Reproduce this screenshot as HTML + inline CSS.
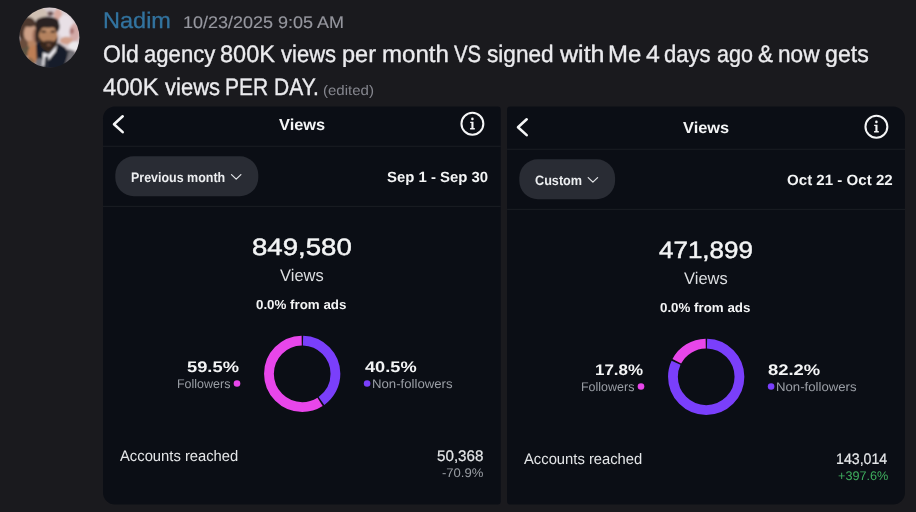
<!DOCTYPE html>
<html><head><meta charset="utf-8"><title>Discord message</title><style>
html,body{margin:0;padding:0}
body{width:916px;height:512px;overflow:hidden;background:#1a1a1e;position:relative;font-family:"Liberation Sans", sans-serif}
.abs{position:absolute;display:block}
.t{position:absolute;white-space:nowrap;line-height:1;transform-origin:0 0;text-rendering:geometricPrecision;font-family:"Liberation Sans", sans-serif}
</style></head><body>
<svg class="abs" style="left:0;top:0" width="916" height="512" viewBox="0 0 916 512"><defs><clipPath id="avc"><circle cx="30" cy="30" r="30"/></clipPath><filter id="avb" x="-20%" y="-20%" width="140%" height="140%"><feGaussianBlur stdDeviation="0.9"/></filter></defs><g transform="translate(19.4 7.6)"><g clip-path="url(#avc)"><g filter="url(#avb)"><rect x="-5" y="-5" width="70" height="70" fill="#d8ccd0"/><ellipse cx="17" cy="6" rx="11" ry="7" fill="#cfc0b3"/><ellipse cx="31" cy="6" rx="3" ry="2.4" fill="#6a5050"/><ellipse cx="38.5" cy="7" rx="4" ry="5.5" fill="#d9aaa0"/><ellipse cx="46" cy="19" rx="8" ry="12" fill="#e8e0e6"/><ellipse cx="55" cy="25" rx="5" ry="9" fill="#d3aaa8"/><ellipse cx="52.5" cy="23.5" rx="2" ry="3" fill="#a87270"/><ellipse cx="47" cy="33" rx="6.5" ry="3.8" fill="#d2a08c"/><ellipse cx="55" cy="38.5" rx="6" ry="4.5" fill="#ece9ec"/><ellipse cx="50.5" cy="52" rx="8" ry="10" fill="#737177"/><ellipse cx="47.5" cy="44" rx="2.5" ry="2" fill="#45454b"/><ellipse cx="8.5" cy="23" rx="10" ry="13.5" fill="#4d392e"/><ellipse cx="11" cy="26" rx="6.6" ry="9.8" fill="#cc9f86"/><ellipse cx="15.2" cy="29" rx="2.4" ry="7.5" fill="#a67660"/><ellipse cx="10" cy="15.8" rx="6.5" ry="3.6" fill="#4d392e"/><ellipse cx="11.5" cy="38" rx="5.5" ry="5" fill="#b88462"/><ellipse cx="4.5" cy="43" rx="6" ry="7" fill="#5f5542"/><ellipse cx="15" cy="47" rx="7" ry="9" fill="#bd7e55"/><ellipse cx="9" cy="55" rx="6" ry="5" fill="#8b6a4f"/><ellipse cx="17.8" cy="28" rx="2.3" ry="8.5" fill="#3b2b25"/><ellipse cx="3.5" cy="36" rx="5" ry="5" fill="#6a4e3e"/><path d="M16.5 37 L20 33.5 L29 45 L39 35.5 L46.5 40.5 L48.5 47 L44 62 L18 62 Z" fill="#181e2a"/><ellipse cx="20" cy="56" rx="4" ry="5.5" fill="#74757d"/><ellipse cx="28.3" cy="19" rx="12" ry="9.6" fill="#2a2220"/><ellipse cx="28.8" cy="28.5" rx="9.4" ry="10.5" fill="#b4825f"/><ellipse cx="29" cy="21.8" rx="6.5" ry="2.2" fill="#c08f6d"/><ellipse cx="28" cy="14.6" rx="11.6" ry="5.6" fill="#2a2220"/><path d="M19.4 29 Q20 42.5 29.5 44.3 Q38.5 42.5 38.4 29 Q35.5 35.7 29.2 35.2 Q23 35.7 19.4 29 Z" fill="#38271f"/><ellipse cx="29.3" cy="34.4" rx="5" ry="1.4" fill="#4a3227"/><ellipse cx="29.3" cy="37.4" rx="2.2" ry="0.8" fill="#9a6a55"/><ellipse cx="24.3" cy="24" rx="2.6" ry="1.2" fill="#3a2921"/><ellipse cx="33.6" cy="24" rx="2.6" ry="1.2" fill="#3a2921"/><path d="M23.5 45 L29.5 47 L37.8 37.3 L36.3 44 L29 53 L25.5 58.5 L22.8 58.5 Z" fill="#eceaee"/><path d="M25.6 49.5 L28.8 48.5 L29.5 62 L24.5 62 Z" fill="#212733"/></g></g></g><path d="M115.00 106.60 H497.70 A3 3 0 0 1 500.70 109.60 V501.50 A3 3 0 0 1 497.70 504.50 H115.00 A12 12 0 0 1 103.00 492.50 V118.60 A12 12 0 0 1 115.00 106.60 Z" fill="#0b0e15"/><rect x="103.00" y="145.70" width="397.70" height="1.2" fill="#181b21"/><rect x="103.00" y="205.80" width="397.70" height="1.2" fill="#181b21"/><path transform="translate(112.70 124.20)" d="M10 -7.9 L1.3 0 L10 7.9" fill="none" stroke="#f5f6f7" stroke-width="2.6" stroke-linecap="round" stroke-linejoin="round"/><g transform="translate(472.40 123.70)" fill="#f5f6f7"><circle r="10.95" fill="none" stroke="#f5f6f7" stroke-width="2.05"/><circle cx="0" cy="-4.8" r="1.3"/><path d="M-2.2 -2 H1.1 V4.4 H2.4 V5.8 H-2.3 V4.4 H-1.0 V-0.6 H-2.2 Z"/></g><rect x="115.30" y="156.30" width="143.00" height="39.9" rx="18.5" ry="18.5" fill="#292c34"/><path transform="translate(231.00 174.10)" d="M0.5 0.5 L5.2 5.0 L9.9 0.5" fill="none" stroke="#e2e4e7" stroke-width="1.25" stroke-linecap="round" stroke-linejoin="round"/><g transform="translate(302.20 373.80) rotate(-90)" fill="none" stroke-width="9.8"><circle r="33.25" stroke="#7a3ffb" stroke-dasharray="82.91 126.00" stroke-dashoffset="-0.85"/><circle r="33.25" stroke="#e846ea" stroke-dasharray="122.60 86.31" stroke-dashoffset="-85.46"/></g><circle cx="237.00" cy="383.50" r="3.3" fill="#e846ea"/><circle cx="367.10" cy="383.50" r="3.3" fill="#7a3ffb"/><path d="M510.10 106.60 H893.00 A12 12 0 0 1 905.00 118.60 V492.60 A12 12 0 0 1 893.00 504.60 H510.10 A3 3 0 0 1 507.10 501.60 V109.60 A3 3 0 0 1 510.10 106.60 Z" fill="#0b0e15"/><rect x="507.10" y="148.70" width="397.90" height="1.2" fill="#181b21"/><rect x="507.10" y="208.80" width="397.90" height="1.2" fill="#181b21"/><path transform="translate(516.70 127.20)" d="M10 -7.9 L1.3 0 L10 7.9" fill="none" stroke="#f5f6f7" stroke-width="2.6" stroke-linecap="round" stroke-linejoin="round"/><g transform="translate(876.40 126.70)" fill="#f5f6f7"><circle r="10.95" fill="none" stroke="#f5f6f7" stroke-width="2.05"/><circle cx="0" cy="-4.8" r="1.3"/><path d="M-2.2 -2 H1.1 V4.4 H2.4 V5.8 H-2.3 V4.4 H-1.0 V-0.6 H-2.2 Z"/></g><rect x="519.30" y="159.30" width="95.80" height="39.9" rx="18.5" ry="18.5" fill="#292c34"/><path transform="translate(587.70 177.10)" d="M0.5 0.5 L5.2 5.0 L9.9 0.5" fill="none" stroke="#e2e4e7" stroke-width="1.25" stroke-linecap="round" stroke-linejoin="round"/><g transform="translate(706.20 376.80) rotate(-90)" fill="none" stroke-width="9.8"><circle r="33.25" stroke="#7a3ffb" stroke-dasharray="170.03 38.89" stroke-dashoffset="-0.85"/><circle r="33.25" stroke="#e846ea" stroke-dasharray="35.49 173.43" stroke-dashoffset="-172.58"/></g><circle cx="641.00" cy="386.50" r="3.3" fill="#e846ea"/><circle cx="771.10" cy="386.50" r="3.3" fill="#7a3ffb"/></svg>
<span class="t" style="left:102.85px;top:10.40px;font-size:22.53px;font-weight:400;color:#32739f;transform:scaleX(1.0444);-webkit-text-stroke:0.3px #32739f">Nadim</span>
<span class="t" style="left:182.78px;top:15.40px;font-size:16.86px;font-weight:400;color:#96979f;transform:scaleX(1.0667);-webkit-text-stroke:0.15px #96979f">10/23/2025 9:05 AM</span>
<span class="t" style="left:102.57px;top:43.00px;font-size:23.84px;font-weight:400;color:#ebebee;transform:scaleX(0.9659);-webkit-text-stroke:0.35px #ebebee">Old</span>
<span class="t" style="left:143.57px;top:43.00px;font-size:23.84px;font-weight:400;color:#ebebee;transform:scaleX(0.9279);-webkit-text-stroke:0.35px #ebebee">agency</span>
<span class="t" style="left:220.30px;top:43.00px;font-size:23.84px;font-weight:400;color:#ebebee;transform:scaleX(0.9872);-webkit-text-stroke:0.35px #ebebee">800K</span>
<span class="t" style="left:281.27px;top:43.00px;font-size:23.84px;font-weight:400;color:#ebebee;transform:scaleX(0.9252);-webkit-text-stroke:0.35px #ebebee">views</span>
<span class="t" style="left:342.36px;top:43.00px;font-size:23.84px;font-weight:400;color:#ebebee;transform:scaleX(0.9886);-webkit-text-stroke:0.35px #ebebee">per</span>
<span class="t" style="left:381.57px;top:43.00px;font-size:23.84px;font-weight:400;color:#ebebee;transform:scaleX(1.0094);-webkit-text-stroke:0.35px #ebebee">month</span>
<span class="t" style="left:454.06px;top:43.00px;font-size:23.84px;font-weight:400;color:#ebebee;transform:scaleX(0.8519);-webkit-text-stroke:0.35px #ebebee">VS</span>
<span class="t" style="left:487.17px;top:43.00px;font-size:23.84px;font-weight:400;color:#ebebee;transform:scaleX(0.9496);-webkit-text-stroke:0.35px #ebebee">signed</span>
<span class="t" style="left:559.51px;top:43.00px;font-size:23.84px;font-weight:400;color:#ebebee;transform:scaleX(1.0504);-webkit-text-stroke:0.35px #ebebee">with</span>
<span class="t" style="left:607.93px;top:43.00px;font-size:23.84px;font-weight:400;color:#ebebee;transform:scaleX(1.0036);-webkit-text-stroke:0.35px #ebebee">Me</span>
<span class="t" style="left:645.86px;top:43.00px;font-size:23.84px;font-weight:400;color:#ebebee;transform:scaleX(1.0407);-webkit-text-stroke:0.35px #ebebee">4</span>
<span class="t" style="left:664.47px;top:43.00px;font-size:23.84px;font-weight:400;color:#ebebee;transform:scaleX(0.9238);-webkit-text-stroke:0.35px #ebebee">days</span>
<span class="t" style="left:716.99px;top:43.00px;font-size:23.84px;font-weight:400;color:#ebebee;transform:scaleX(0.9027);-webkit-text-stroke:0.35px #ebebee">ago</span>
<span class="t" style="left:757.84px;top:43.00px;font-size:23.84px;font-weight:400;color:#ebebee;transform:scaleX(0.9453);-webkit-text-stroke:0.35px #ebebee">&amp;</span>
<span class="t" style="left:777.96px;top:43.00px;font-size:23.84px;font-weight:400;color:#ebebee;transform:scaleX(0.9492);-webkit-text-stroke:0.35px #ebebee">now</span>
<span class="t" style="left:825.34px;top:43.00px;font-size:23.84px;font-weight:400;color:#ebebee;transform:scaleX(0.9716);-webkit-text-stroke:0.35px #ebebee">gets</span>
<span class="t" style="left:102.97px;top:76.00px;font-size:23.84px;font-weight:400;color:#ebebee;transform:scaleX(0.9985);-webkit-text-stroke:0.35px #ebebee">400K</span>
<span class="t" style="left:164.77px;top:76.00px;font-size:23.84px;font-weight:400;color:#ebebee;transform:scaleX(0.9235);-webkit-text-stroke:0.35px #ebebee">views</span>
<span class="t" style="left:225.45px;top:76.00px;font-size:23.84px;font-weight:400;color:#ebebee;transform:scaleX(0.8806);-webkit-text-stroke:0.35px #ebebee">PER</span>
<span class="t" style="left:273.55px;top:76.00px;font-size:23.84px;font-weight:400;color:#ebebee;transform:scaleX(0.8828);-webkit-text-stroke:0.35px #ebebee">DAY.</span>
<span class="t" style="left:323.25px;top:83.60px;font-size:13.95px;font-weight:400;color:#85868e;transform:scaleX(1.0785)">(edited)</span>
<span class="t" style="left:279.00px;top:117.60px;font-size:15.84px;font-weight:700;color:#f3f4f5;transform:scaleX(1.0358)">Views</span>
<span class="t" style="left:131.14px;top:170.70px;font-size:13.66px;font-weight:700;color:#eceef0;transform:scaleX(0.9128)">Previous month</span>
<span class="t" style="left:387.45px;top:171.00px;font-size:14.83px;font-weight:700;color:#f3f4f5;transform:scaleX(1.0055)">Sep 1 - Sep 30</span>
<span class="t" style="left:251.85px;top:237.20px;font-size:23.69px;font-weight:400;color:#f3f4f5;transform:scaleX(1.1648);-webkit-text-stroke:0.5px #f3f4f5">849,580</span>
<span class="t" style="left:280.21px;top:267.80px;font-size:16.86px;font-weight:400;color:#dcdee1;transform:scaleX(0.9790)">Views</span>
<span class="t" style="left:256.36px;top:298.30px;font-size:13.08px;font-weight:700;color:#f3f4f5;transform:scaleX(1.0195)">0.0% from ads</span>
<span class="t" style="left:187.33px;top:359.90px;font-size:15.26px;font-weight:700;color:#f3f4f5;transform:scaleX(1.2003)">59.5%</span>
<span class="t" style="left:176.71px;top:378.40px;font-size:12.50px;font-weight:400;color:#9a9ea5;transform:scaleX(0.9981)">Followers</span>
<span class="t" style="left:364.82px;top:359.90px;font-size:15.26px;font-weight:700;color:#f3f4f5;transform:scaleX(1.1935)">40.5%</span>
<span class="t" style="left:372.27px;top:378.40px;font-size:12.50px;font-weight:400;color:#9a9ea5;transform:scaleX(1.0543)">Non-followers</span>
<span class="t" style="left:120.10px;top:449.20px;font-size:15.26px;font-weight:400;color:#e4e6e8;transform:scaleX(0.9688)">Accounts reached</span>
<span class="t" style="left:437.47px;top:449.20px;font-size:15.26px;font-weight:400;color:#e4e6e8;transform:scaleX(0.9957);-webkit-text-stroke:0.2px #e4e6e8">50,368</span>
<span class="t" style="left:442.45px;top:466.90px;font-size:12.50px;font-weight:400;color:#9a9ea4;transform:scaleX(1.0445)">-70.9%</span>
<span class="t" style="left:683.00px;top:120.60px;font-size:15.84px;font-weight:700;color:#f3f4f5;transform:scaleX(1.0358)">Views</span>
<span class="t" style="left:535.38px;top:173.70px;font-size:13.66px;font-weight:700;color:#eceef0;transform:scaleX(0.9263)">Custom</span>
<span class="t" style="left:787.17px;top:174.00px;font-size:14.83px;font-weight:700;color:#f3f4f5;transform:scaleX(1.0177)">Oct 21 - Oct 22</span>
<span class="t" style="left:658.53px;top:240.20px;font-size:23.69px;font-weight:400;color:#f3f4f5;transform:scaleX(1.0962);-webkit-text-stroke:0.5px #f3f4f5">471,899</span>
<span class="t" style="left:684.21px;top:270.80px;font-size:16.86px;font-weight:400;color:#dcdee1;transform:scaleX(0.9790)">Views</span>
<span class="t" style="left:660.36px;top:301.30px;font-size:13.08px;font-weight:700;color:#f3f4f5;transform:scaleX(1.0195)">0.0% from ads</span>
<span class="t" style="left:595.16px;top:362.90px;font-size:15.26px;font-weight:700;color:#f3f4f5;transform:scaleX(1.1118)">17.8%</span>
<span class="t" style="left:580.71px;top:381.40px;font-size:12.50px;font-weight:400;color:#9a9ea5;transform:scaleX(0.9981)">Followers</span>
<span class="t" style="left:768.18px;top:362.90px;font-size:15.26px;font-weight:700;color:#f3f4f5;transform:scaleX(1.2083)">82.2%</span>
<span class="t" style="left:776.27px;top:381.40px;font-size:12.50px;font-weight:400;color:#9a9ea5;transform:scaleX(1.0543)">Non-followers</span>
<span class="t" style="left:524.10px;top:452.20px;font-size:15.26px;font-weight:400;color:#e4e6e8;transform:scaleX(0.9688)">Accounts reached</span>
<span class="t" style="left:836.40px;top:452.20px;font-size:15.26px;font-weight:400;color:#e4e6e8;transform:scaleX(0.9288);-webkit-text-stroke:0.2px #e4e6e8">143,014</span>
<span class="t" style="left:837.59px;top:469.90px;font-size:12.50px;font-weight:400;color:#3fae5e;transform:scaleX(1.0124)">+397.6%</span>
</body></html>
